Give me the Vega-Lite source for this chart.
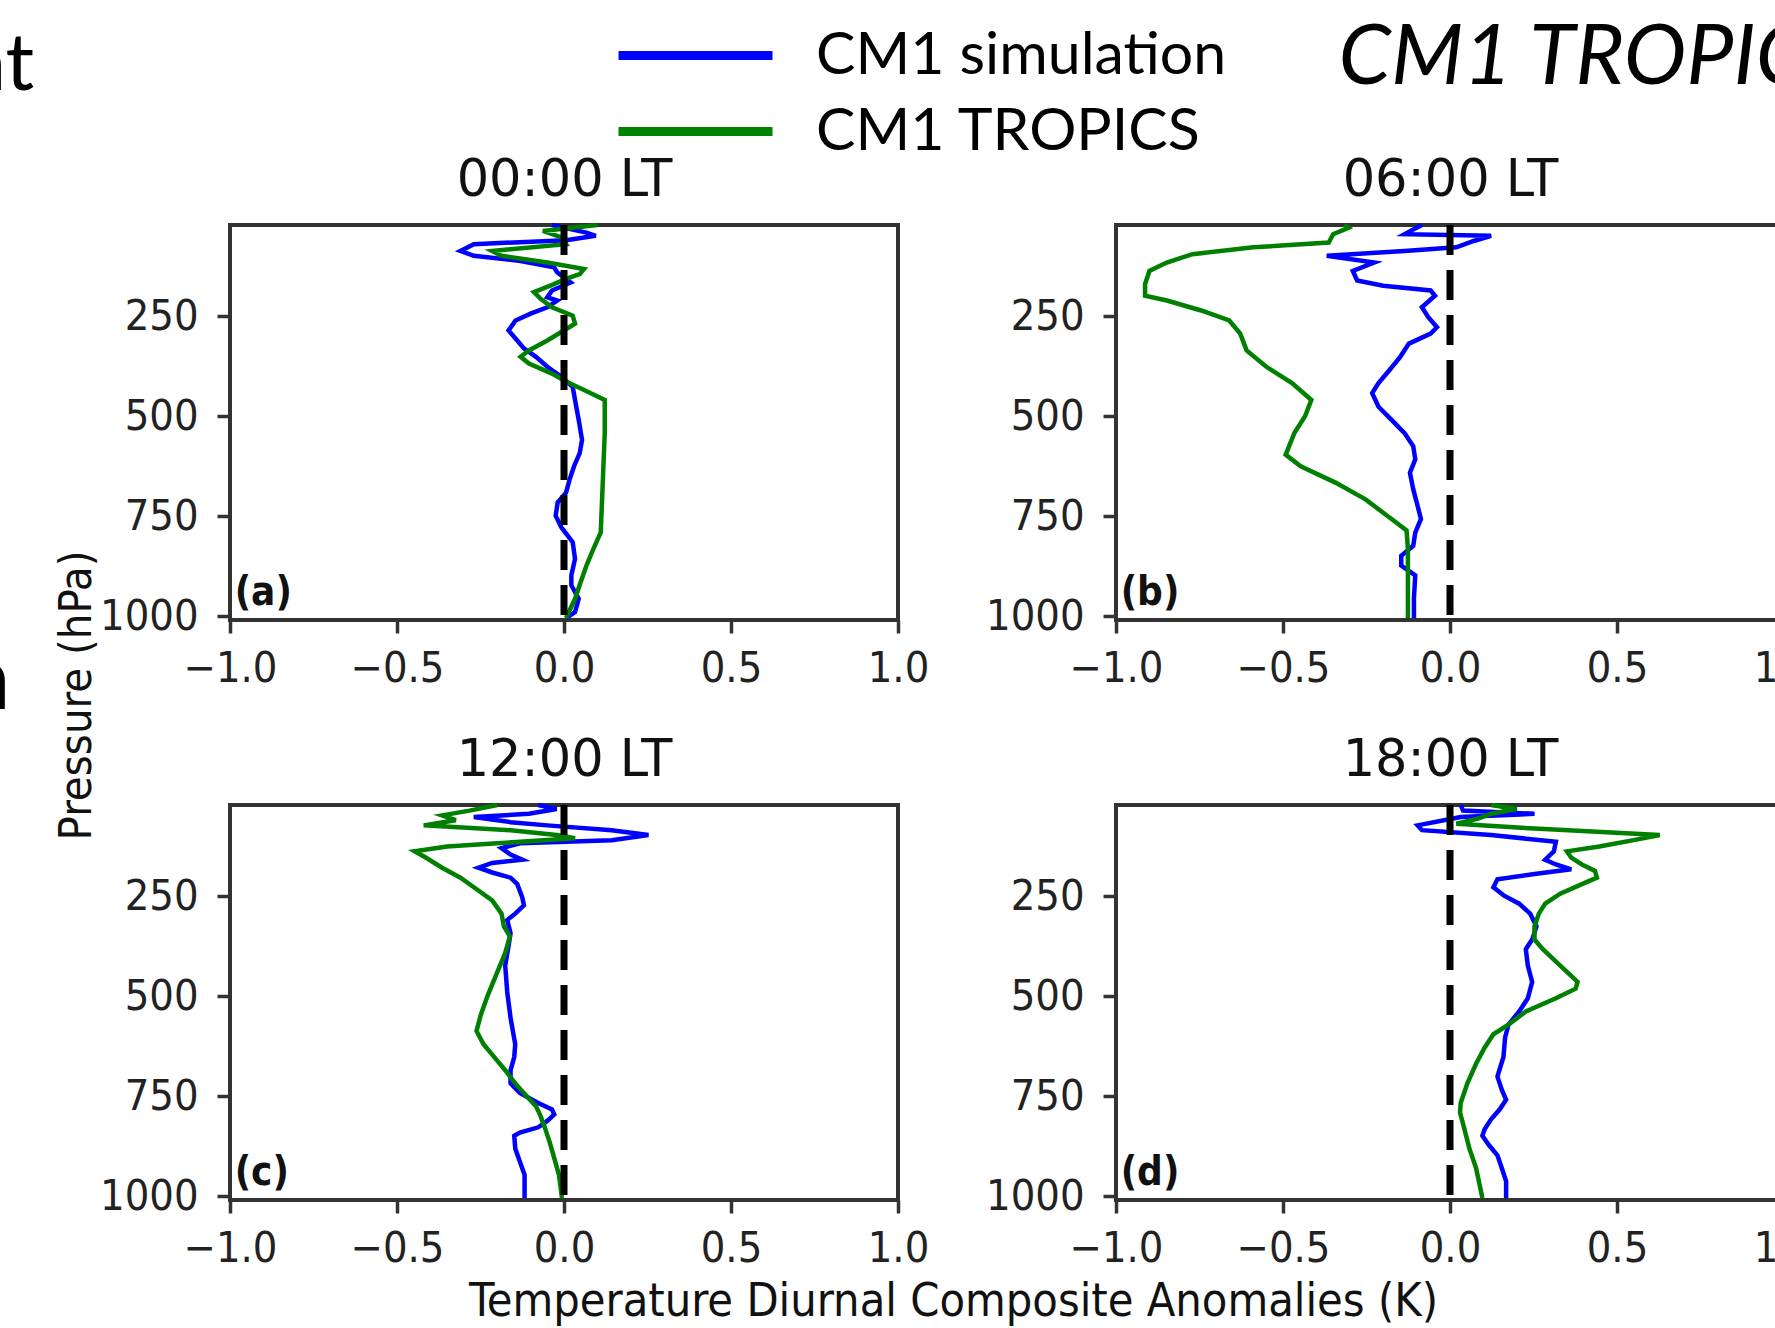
{
"$schema": "https://vega.github.io/schema/vega-lite/v6.json",
"usermeta": {"embedOptions": {"actions": false}},
"background": "white",
"padding": {"left": -42, "top": 14, "right": -39, "bottom": 0},
"bounds": "flush",
"columns": 2,
"spacing": {"row": 185, "column": 218},
"resolve": {"scale": {"color": "shared"}, "legend": {"color": "shared"}},
"config": {
  "font": "DejaVu Sans",
  "view": {"stroke": "#333333", "strokeWidth": 4},
  "axis": {"grid": false, "domain": false, "tickColor": "#333333", "tickWidth": 3.5, "tickSize": 13, "labelFont": "DejaVu Sans Condensed, DejaVu Sans", "labelFontSize": 43, "labelColor": "#222222", "labelOverlap": false, "labelFlush": false, "labelBound": false, "titleLimit": 3000, "titleColor": "#111111", "titleFontWeight": "normal"},
  "legend": {"symbolType": "M-3,0H3", "symbolSize": 2635, "symbolStrokeWidth": 9, "symbolFillColor": "transparent", "labelFont": "Liberation Sans Narrow, Lato", "labelFontSize": 59, "labelColor": "#000000", "labelOffset": 90, "rowPadding": 15, "labelLimit": 2000, "padding": 0}
},
"datasets": {
  "tags": [
    {"g": "a", "T": -0.986, "p": 972, "label": "(a)"},
    {"g": "b", "T": -0.986, "p": 972, "label": "(b)"},
    {"g": "c", "T": -0.986, "p": 972, "label": "(c)"},
    {"g": "d", "T": -0.986, "p": 972, "label": "(d)"}
  ],
  "profiles": [
    {"g":"a","s":"CM1 simulation","p":21,"T":-0.036},{"g":"a","s":"CM1 simulation","p":40,"T":0.067},{"g":"a","s":"CM1 simulation","p":48,"T":0.095},{"g":"a","s":"CM1 simulation","p":59,"T":0.006},{"g":"a","s":"CM1 simulation","p":69,"T":-0.27},{"g":"a","s":"CM1 simulation","p":86,"T":-0.31},{"g":"a","s":"CM1 simulation","p":98,"T":-0.27},{"g":"a","s":"CM1 simulation","p":111,"T":-0.13},{"g":"a","s":"CM1 simulation","p":127,"T":-0.03},{"g":"a","s":"CM1 simulation","p":140,"T":-0.02},{"g":"a","s":"CM1 simulation","p":165,"T":0.02},{"g":"a","s":"CM1 simulation","p":185,"T":-0.036},{"g":"a","s":"CM1 simulation","p":202,"T":-0.05},{"g":"a","s":"CM1 simulation","p":210,"T":-0.02},{"g":"a","s":"CM1 simulation","p":227,"T":-0.05},{"g":"a","s":"CM1 simulation","p":243,"T":-0.1},{"g":"a","s":"CM1 simulation","p":260,"T":-0.145},{"g":"a","s":"CM1 simulation","p":285,"T":-0.166},{"g":"a","s":"CM1 simulation","p":310,"T":-0.14},{"g":"a","s":"CM1 simulation","p":330,"T":-0.12},{"g":"a","s":"CM1 simulation","p":351,"T":-0.084},{"g":"a","s":"CM1 simulation","p":376,"T":-0.05},{"g":"a","s":"CM1 simulation","p":401,"T":-0.008},{"g":"a","s":"CM1 simulation","p":426,"T":0.026},{"g":"a","s":"CM1 simulation","p":459,"T":0.033},{"g":"a","s":"CM1 simulation","p":509,"T":0.044},{"g":"a","s":"CM1 simulation","p":559,"T":0.054},{"g":"a","s":"CM1 simulation","p":592,"T":0.047},{"g":"a","s":"CM1 simulation","p":625,"T":0.03},{"g":"a","s":"CM1 simulation","p":658,"T":0.017},{"g":"a","s":"CM1 simulation","p":691,"T":0.006},{"g":"a","s":"CM1 simulation","p":716,"T":-0.019},{"g":"a","s":"CM1 simulation","p":749,"T":-0.025},{"g":"a","s":"CM1 simulation","p":778,"T":-0.008},{"g":"a","s":"CM1 simulation","p":815,"T":0.026},{"g":"a","s":"CM1 simulation","p":857,"T":0.033},{"g":"a","s":"CM1 simulation","p":898,"T":0.022},{"g":"a","s":"CM1 simulation","p":923,"T":0.022},{"g":"a","s":"CM1 simulation","p":957,"T":0.044},{"g":"a","s":"CM1 simulation","p":990,"T":0.033},{"g":"a","s":"CM1 simulation","p":1005,"T":0.006},
    {"g":"a","s":"CM1 TROPICS","p":21,"T":0.1},{"g":"a","s":"CM1 TROPICS","p":36,"T":-0.063},{"g":"a","s":"CM1 TROPICS","p":52,"T":-0.008},{"g":"a","s":"CM1 TROPICS","p":69,"T":0.006},{"g":"a","s":"CM1 TROPICS","p":86,"T":-0.215},{"g":"a","s":"CM1 TROPICS","p":98,"T":-0.187},{"g":"a","s":"CM1 TROPICS","p":115,"T":-0.05},{"g":"a","s":"CM1 TROPICS","p":131,"T":0.06},{"g":"a","s":"CM1 TROPICS","p":144,"T":0.047},{"g":"a","s":"CM1 TROPICS","p":156,"T":0.006},{"g":"a","s":"CM1 TROPICS","p":169,"T":-0.03},{"g":"a","s":"CM1 TROPICS","p":189,"T":-0.09},{"g":"a","s":"CM1 TROPICS","p":206,"T":-0.07},{"g":"a","s":"CM1 TROPICS","p":227,"T":-0.036},{"g":"a","s":"CM1 TROPICS","p":248,"T":0.026},{"g":"a","s":"CM1 TROPICS","p":268,"T":0.033},{"g":"a","s":"CM1 TROPICS","p":289,"T":-0.008},{"g":"a","s":"CM1 TROPICS","p":310,"T":-0.05},{"g":"a","s":"CM1 TROPICS","p":335,"T":-0.105},{"g":"a","s":"CM1 TROPICS","p":351,"T":-0.13},{"g":"a","s":"CM1 TROPICS","p":368,"T":-0.105},{"g":"a","s":"CM1 TROPICS","p":393,"T":-0.036},{"g":"a","s":"CM1 TROPICS","p":413,"T":0.006},{"g":"a","s":"CM1 TROPICS","p":434,"T":0.06},{"g":"a","s":"CM1 TROPICS","p":459,"T":0.122},{"g":"a","s":"CM1 TROPICS","p":542,"T":0.122},{"g":"a","s":"CM1 TROPICS","p":625,"T":0.118},{"g":"a","s":"CM1 TROPICS","p":791,"T":0.11},{"g":"a","s":"CM1 TROPICS","p":832,"T":0.088},{"g":"a","s":"CM1 TROPICS","p":874,"T":0.067},{"g":"a","s":"CM1 TROPICS","p":915,"T":0.05},{"g":"a","s":"CM1 TROPICS","p":957,"T":0.033},{"g":"a","s":"CM1 TROPICS","p":1005,"T":0.006},
    {"g":"b","s":"CM1 simulation","p":21,"T":-0.084},{"g":"b","s":"CM1 simulation","p":32,"T":-0.11},{"g":"b","s":"CM1 simulation","p":44,"T":-0.136},{"g":"b","s":"CM1 simulation","p":48,"T":0.123},{"g":"b","s":"CM1 simulation","p":61,"T":0.071},{"g":"b","s":"CM1 simulation","p":77,"T":0.019},{"g":"b","s":"CM1 simulation","p":86,"T":-0.136},{"g":"b","s":"CM1 simulation","p":98,"T":-0.369},{"g":"b","s":"CM1 simulation","p":115,"T":-0.227},{"g":"b","s":"CM1 simulation","p":136,"T":-0.291},{"g":"b","s":"CM1 simulation","p":160,"T":-0.278},{"g":"b","s":"CM1 simulation","p":173,"T":-0.2},{"g":"b","s":"CM1 simulation","p":185,"T":-0.058},{"g":"b","s":"CM1 simulation","p":198,"T":-0.045},{"g":"b","s":"CM1 simulation","p":227,"T":-0.084},{"g":"b","s":"CM1 simulation","p":252,"T":-0.065},{"g":"b","s":"CM1 simulation","p":277,"T":-0.039},{"g":"b","s":"CM1 simulation","p":293,"T":-0.058},{"g":"b","s":"CM1 simulation","p":318,"T":-0.123},{"g":"b","s":"CM1 simulation","p":351,"T":-0.149},{"g":"b","s":"CM1 simulation","p":384,"T":-0.181},{"g":"b","s":"CM1 simulation","p":417,"T":-0.214},{"g":"b","s":"CM1 simulation","p":442,"T":-0.233},{"g":"b","s":"CM1 simulation","p":476,"T":-0.214},{"g":"b","s":"CM1 simulation","p":509,"T":-0.175},{"g":"b","s":"CM1 simulation","p":542,"T":-0.136},{"g":"b","s":"CM1 simulation","p":575,"T":-0.11},{"g":"b","s":"CM1 simulation","p":608,"T":-0.104},{"g":"b","s":"CM1 simulation","p":641,"T":-0.12},{"g":"b","s":"CM1 simulation","p":683,"T":-0.11},{"g":"b","s":"CM1 simulation","p":724,"T":-0.097},{"g":"b","s":"CM1 simulation","p":757,"T":-0.087},{"g":"b","s":"CM1 simulation","p":791,"T":-0.104},{"g":"b","s":"CM1 simulation","p":824,"T":-0.11},{"g":"b","s":"CM1 simulation","p":849,"T":-0.146},{"g":"b","s":"CM1 simulation","p":874,"T":-0.146},{"g":"b","s":"CM1 simulation","p":898,"T":-0.104},{"g":"b","s":"CM1 simulation","p":956,"T":-0.108},{"g":"b","s":"CM1 simulation","p":1005,"T":-0.108},
    {"g":"b","s":"CM1 TROPICS","p":21,"T":-0.317},{"g":"b","s":"CM1 TROPICS","p":28,"T":-0.304},{"g":"b","s":"CM1 TROPICS","p":44,"T":-0.35},{"g":"b","s":"CM1 TROPICS","p":65,"T":-0.363},{"g":"b","s":"CM1 TROPICS","p":77,"T":-0.589},{"g":"b","s":"CM1 TROPICS","p":94,"T":-0.771},{"g":"b","s":"CM1 TROPICS","p":115,"T":-0.848},{"g":"b","s":"CM1 TROPICS","p":136,"T":-0.9},{"g":"b","s":"CM1 TROPICS","p":169,"T":-0.913},{"g":"b","s":"CM1 TROPICS","p":198,"T":-0.913},{"g":"b","s":"CM1 TROPICS","p":210,"T":-0.848},{"g":"b","s":"CM1 TROPICS","p":235,"T":-0.745},{"g":"b","s":"CM1 TROPICS","p":260,"T":-0.661},{"g":"b","s":"CM1 TROPICS","p":293,"T":-0.628},{"g":"b","s":"CM1 TROPICS","p":335,"T":-0.609},{"g":"b","s":"CM1 TROPICS","p":376,"T":-0.55},{"g":"b","s":"CM1 TROPICS","p":417,"T":-0.473},{"g":"b","s":"CM1 TROPICS","p":459,"T":-0.415},{"g":"b","s":"CM1 TROPICS","p":500,"T":-0.434},{"g":"b","s":"CM1 TROPICS","p":542,"T":-0.466},{"g":"b","s":"CM1 TROPICS","p":596,"T":-0.492},{"g":"b","s":"CM1 TROPICS","p":625,"T":-0.447},{"g":"b","s":"CM1 TROPICS","p":666,"T":-0.343},{"g":"b","s":"CM1 TROPICS","p":708,"T":-0.253},{"g":"b","s":"CM1 TROPICS","p":749,"T":-0.188},{"g":"b","s":"CM1 TROPICS","p":786,"T":-0.13},{"g":"b","s":"CM1 TROPICS","p":832,"T":-0.126},{"g":"b","s":"CM1 TROPICS","p":1005,"T":-0.126},
    {"g":"c","s":"CM1 simulation","p":21,"T":-0.077},{"g":"c","s":"CM1 simulation","p":31,"T":-0.022},{"g":"c","s":"CM1 simulation","p":43,"T":-0.105},{"g":"c","s":"CM1 simulation","p":51,"T":-0.27},{"g":"c","s":"CM1 simulation","p":64,"T":-0.16},{"g":"c","s":"CM1 simulation","p":72,"T":-0.05},{"g":"c","s":"CM1 simulation","p":84,"T":0.143},{"g":"c","s":"CM1 simulation","p":96,"T":0.253},{"g":"c","s":"CM1 simulation","p":109,"T":0.143},{"g":"c","s":"CM1 simulation","p":117,"T":-0.132},{"g":"c","s":"CM1 simulation","p":129,"T":-0.187},{"g":"c","s":"CM1 simulation","p":145,"T":-0.16},{"g":"c","s":"CM1 simulation","p":158,"T":-0.125},{"g":"c","s":"CM1 simulation","p":166,"T":-0.215},{"g":"c","s":"CM1 simulation","p":178,"T":-0.256},{"g":"c","s":"CM1 simulation","p":190,"T":-0.215},{"g":"c","s":"CM1 simulation","p":203,"T":-0.16},{"g":"c","s":"CM1 simulation","p":219,"T":-0.14},{"g":"c","s":"CM1 simulation","p":252,"T":-0.125},{"g":"c","s":"CM1 simulation","p":272,"T":-0.12},{"g":"c","s":"CM1 simulation","p":293,"T":-0.146},{"g":"c","s":"CM1 simulation","p":309,"T":-0.17},{"g":"c","s":"CM1 simulation","p":342,"T":-0.16},{"g":"c","s":"CM1 simulation","p":374,"T":-0.166},{"g":"c","s":"CM1 simulation","p":423,"T":-0.176},{"g":"c","s":"CM1 simulation","p":489,"T":-0.17},{"g":"c","s":"CM1 simulation","p":554,"T":-0.16},{"g":"c","s":"CM1 simulation","p":620,"T":-0.146},{"g":"c","s":"CM1 simulation","p":652,"T":-0.149},{"g":"c","s":"CM1 simulation","p":685,"T":-0.16},{"g":"c","s":"CM1 simulation","p":718,"T":-0.16},{"g":"c","s":"CM1 simulation","p":742,"T":-0.132},{"g":"c","s":"CM1 simulation","p":767,"T":-0.077},{"g":"c","s":"CM1 simulation","p":783,"T":-0.036},{"g":"c","s":"CM1 simulation","p":796,"T":-0.029},{"g":"c","s":"CM1 simulation","p":812,"T":-0.05},{"g":"c","s":"CM1 simulation","p":828,"T":-0.077},{"g":"c","s":"CM1 simulation","p":841,"T":-0.132},{"g":"c","s":"CM1 simulation","p":849,"T":-0.149},{"g":"c","s":"CM1 simulation","p":881,"T":-0.146},{"g":"c","s":"CM1 simulation","p":914,"T":-0.132},{"g":"c","s":"CM1 simulation","p":947,"T":-0.118},{"g":"c","s":"CM1 simulation","p":1005,"T":-0.118},
    {"g":"c","s":"CM1 TROPICS","p":21,"T":-0.2},{"g":"c","s":"CM1 TROPICS","p":35,"T":-0.283},{"g":"c","s":"CM1 TROPICS","p":47,"T":-0.365},{"g":"c","s":"CM1 TROPICS","p":59,"T":-0.324},{"g":"c","s":"CM1 TROPICS","p":72,"T":-0.42},{"g":"c","s":"CM1 TROPICS","p":84,"T":-0.16},{"g":"c","s":"CM1 TROPICS","p":96,"T":-0.022},{"g":"c","s":"CM1 TROPICS","p":104,"T":0.033},{"g":"c","s":"CM1 TROPICS","p":117,"T":-0.2},{"g":"c","s":"CM1 TROPICS","p":125,"T":-0.35},{"g":"c","s":"CM1 TROPICS","p":137,"T":-0.447},{"g":"c","s":"CM1 TROPICS","p":153,"T":-0.413},{"g":"c","s":"CM1 TROPICS","p":178,"T":-0.365},{"g":"c","s":"CM1 TROPICS","p":203,"T":-0.31},{"g":"c","s":"CM1 TROPICS","p":227,"T":-0.27},{"g":"c","s":"CM1 TROPICS","p":260,"T":-0.215},{"g":"c","s":"CM1 TROPICS","p":293,"T":-0.187},{"g":"c","s":"CM1 TROPICS","p":325,"T":-0.18},{"g":"c","s":"CM1 TROPICS","p":350,"T":-0.162},{"g":"c","s":"CM1 TROPICS","p":391,"T":-0.176},{"g":"c","s":"CM1 TROPICS","p":440,"T":-0.2},{"g":"c","s":"CM1 TROPICS","p":497,"T":-0.228},{"g":"c","s":"CM1 TROPICS","p":546,"T":-0.249},{"g":"c","s":"CM1 TROPICS","p":587,"T":-0.262},{"g":"c","s":"CM1 TROPICS","p":620,"T":-0.241},{"g":"c","s":"CM1 TROPICS","p":661,"T":-0.2},{"g":"c","s":"CM1 TROPICS","p":685,"T":-0.176},{"g":"c","s":"CM1 TROPICS","p":718,"T":-0.146},{"g":"c","s":"CM1 TROPICS","p":751,"T":-0.111},{"g":"c","s":"CM1 TROPICS","p":775,"T":-0.084},{"g":"c","s":"CM1 TROPICS","p":800,"T":-0.07},{"g":"c","s":"CM1 TROPICS","p":832,"T":-0.056},{"g":"c","s":"CM1 TROPICS","p":865,"T":-0.043},{"g":"c","s":"CM1 TROPICS","p":906,"T":-0.029},{"g":"c","s":"CM1 TROPICS","p":947,"T":-0.015},{"g":"c","s":"CM1 TROPICS","p":1005,"T":-0.006},
    {"g":"d","s":"CM1 simulation","p":21,"T":0.032},{"g":"d","s":"CM1 simulation","p":35,"T":0.039},{"g":"d","s":"CM1 simulation","p":43,"T":0.253},{"g":"d","s":"CM1 simulation","p":51,"T":0.032},{"g":"d","s":"CM1 simulation","p":72,"T":-0.097},{"g":"d","s":"CM1 simulation","p":84,"T":-0.084},{"g":"d","s":"CM1 simulation","p":96,"T":0.123},{"g":"d","s":"CM1 simulation","p":113,"T":0.317},{"g":"d","s":"CM1 simulation","p":137,"T":0.311},{"g":"d","s":"CM1 simulation","p":158,"T":0.285},{"g":"d","s":"CM1 simulation","p":170,"T":0.317},{"g":"d","s":"CM1 simulation","p":182,"T":0.363},{"g":"d","s":"CM1 simulation","p":194,"T":0.253},{"g":"d","s":"CM1 simulation","p":207,"T":0.142},{"g":"d","s":"CM1 simulation","p":227,"T":0.13},{"g":"d","s":"CM1 simulation","p":248,"T":0.162},{"g":"d","s":"CM1 simulation","p":268,"T":0.207},{"g":"d","s":"CM1 simulation","p":293,"T":0.24},{"g":"d","s":"CM1 simulation","p":325,"T":0.259},{"g":"d","s":"CM1 simulation","p":358,"T":0.246},{"g":"d","s":"CM1 simulation","p":382,"T":0.227},{"g":"d","s":"CM1 simulation","p":423,"T":0.233},{"g":"d","s":"CM1 simulation","p":464,"T":0.246},{"g":"d","s":"CM1 simulation","p":505,"T":0.233},{"g":"d","s":"CM1 simulation","p":538,"T":0.207},{"g":"d","s":"CM1 simulation","p":571,"T":0.175},{"g":"d","s":"CM1 simulation","p":603,"T":0.165},{"g":"d","s":"CM1 simulation","p":652,"T":0.16},{"g":"d","s":"CM1 simulation","p":701,"T":0.142},{"g":"d","s":"CM1 simulation","p":734,"T":0.155},{"g":"d","s":"CM1 simulation","p":759,"T":0.168},{"g":"d","s":"CM1 simulation","p":783,"T":0.149},{"g":"d","s":"CM1 simulation","p":808,"T":0.123},{"g":"d","s":"CM1 simulation","p":832,"T":0.104},{"g":"d","s":"CM1 simulation","p":849,"T":0.097},{"g":"d","s":"CM1 simulation","p":873,"T":0.117},{"g":"d","s":"CM1 simulation","p":898,"T":0.142},{"g":"d","s":"CM1 simulation","p":930,"T":0.155},{"g":"d","s":"CM1 simulation","p":963,"T":0.168},{"g":"d","s":"CM1 simulation","p":1005,"T":0.168},
    {"g":"d","s":"CM1 TROPICS","p":21,"T":0.123},{"g":"d","s":"CM1 TROPICS","p":31,"T":0.2},{"g":"d","s":"CM1 TROPICS","p":43,"T":0.123},{"g":"d","s":"CM1 TROPICS","p":55,"T":0.084},{"g":"d","s":"CM1 TROPICS","p":68,"T":0.019},{"g":"d","s":"CM1 TROPICS","p":80,"T":0.253},{"g":"d","s":"CM1 TROPICS","p":96,"T":0.628},{"g":"d","s":"CM1 TROPICS","p":109,"T":0.55},{"g":"d","s":"CM1 TROPICS","p":125,"T":0.447},{"g":"d","s":"CM1 TROPICS","p":137,"T":0.35},{"g":"d","s":"CM1 TROPICS","p":153,"T":0.363},{"g":"d","s":"CM1 TROPICS","p":170,"T":0.395},{"g":"d","s":"CM1 TROPICS","p":186,"T":0.434},{"g":"d","s":"CM1 TROPICS","p":203,"T":0.44},{"g":"d","s":"CM1 TROPICS","p":219,"T":0.395},{"g":"d","s":"CM1 TROPICS","p":243,"T":0.33},{"g":"d","s":"CM1 TROPICS","p":268,"T":0.285},{"g":"d","s":"CM1 TROPICS","p":293,"T":0.266},{"g":"d","s":"CM1 TROPICS","p":325,"T":0.253},{"g":"d","s":"CM1 TROPICS","p":358,"T":0.253},{"g":"d","s":"CM1 TROPICS","p":382,"T":0.278},{"g":"d","s":"CM1 TROPICS","p":423,"T":0.33},{"g":"d","s":"CM1 TROPICS","p":464,"T":0.382},{"g":"d","s":"CM1 TROPICS","p":481,"T":0.376},{"g":"d","s":"CM1 TROPICS","p":505,"T":0.317},{"g":"d","s":"CM1 TROPICS","p":538,"T":0.227},{"g":"d","s":"CM1 TROPICS","p":571,"T":0.175},{"g":"d","s":"CM1 TROPICS","p":595,"T":0.13},{"g":"d","s":"CM1 TROPICS","p":628,"T":0.104},{"g":"d","s":"CM1 TROPICS","p":669,"T":0.078},{"g":"d","s":"CM1 TROPICS","p":718,"T":0.052},{"g":"d","s":"CM1 TROPICS","p":767,"T":0.032},{"g":"d","s":"CM1 TROPICS","p":791,"T":0.03},{"g":"d","s":"CM1 TROPICS","p":832,"T":0.043},{"g":"d","s":"CM1 TROPICS","p":881,"T":0.058},{"g":"d","s":"CM1 TROPICS","p":930,"T":0.078},{"g":"d","s":"CM1 TROPICS","p":1005,"T":0.097}
  ]
},
"concat": [
  {
    "width": 668, "height": 395,
    "resolve": {"axis": {"x": "independent"}},
    "layer": [
      {"data": {"name": "profiles"}, "transform": [{"filter": "datum.g == 'a'"}],
       "mark": {"type": "line", "strokeWidth": 4.5},
       "encoding": {
         "x": {"field": "T", "type": "quantitative", "scale": {"domain": [-1, 1], "nice": false, "zero": false},
               "axis": {"values": [-1, -0.5, 0, 0.5, 1], "format": ".1f", "labelPadding": 14, "title": "nt", "titleX": -269, "titleY": -531, "titleAngle": 0, "titleAlign": "left", "titleBaseline": "alphabetic", "titleFont": "Liberation Sans Narrow, Lato", "titleFontSize": 80, "titleColor": "#000000"}},
         "y": {"field": "p", "type": "quantitative", "scale": {"domain": [21, 1010], "reverse": true, "nice": false, "zero": false},
               "axis": {"values": [250, 500, 750, 1000], "format": "d", "labelPadding": 19, "title": "Pressure (hPa)", "titleX": -140, "titleY": 470, "titleAngle": 270, "titleAlign": "center", "titleBaseline": "alphabetic", "titleFont": "DejaVu Sans Condensed, DejaVu Sans", "titleFontSize": 45}},
         "color": {"field": "s", "type": "nominal", "scale": {"domain": ["CM1 simulation", "CM1 TROPICS"], "range": ["#0000ff", "#008000"]},
                   "legend": {"orient": "none", "legendX": 435, "legendY": -200, "direction": "vertical", "title": null}},
         "order": {"field": "p", "type": "quantitative"}
       }},
      {"data": {"name": "tags"}, "transform": [{"filter": "datum.g == 'a'"}],
       "mark": {"type": "text", "align": "left", "baseline": "alphabetic", "font": "DejaVu Sans Condensed, DejaVu Sans", "fontWeight": "bold", "fontSize": 40, "color": "#111111"},
       "encoding": {"x": {"field": "T", "type": "quantitative", "axis": null}, "y": {"field": "p", "type": "quantitative"}, "text": {"field": "label"}}},
      {"data": {"values": [{"z": 0}]},
       "mark": {"type": "rule", "color": "#000000", "strokeWidth": 7, "strokeDash": [30, 15]},
       "encoding": {"x": {"field": "z", "type": "quantitative",
         "axis": {"orient": "top", "title": "00:00 LT", "labels": false, "ticks": false, "domain": false, "titleX": 334, "titleY": -30, "titleAngle": 0, "titleAlign": "center", "titleBaseline": "alphabetic", "titleFont": "DejaVu Sans", "titleFontSize": 51}}}}
    ]
  },
  {
    "width": 668, "height": 395,
    "resolve": {"axis": {"x": "independent"}},
    "layer": [
      {"data": {"name": "profiles"}, "transform": [{"filter": "datum.g == 'b'"}],
       "mark": {"type": "line", "strokeWidth": 4.5},
       "encoding": {
         "x": {"field": "T", "type": "quantitative", "scale": {"domain": [-1, 1], "nice": false, "zero": false},
               "axis": {"values": [-1, -0.5, 0, 0.5, 1], "format": ".1f", "labelPadding": 14, "title": null}},
         "y": {"field": "p", "type": "quantitative", "scale": {"domain": [21, 1010], "reverse": true, "nice": false, "zero": false},
               "axis": {"values": [250, 500, 750, 1000], "format": "d", "labelPadding": 19, "title": "CM1 TROPICS", "titleX": 222, "titleY": -142, "titleAngle": 0, "titleAlign": "left", "titleBaseline": "alphabetic", "titleFont": "Liberation Sans Narrow, Lato", "titleFontStyle": "italic", "titleFontSize": 84, "titleColor": "#000000"}},
         "color": {"field": "s", "type": "nominal", "scale": {"domain": ["CM1 simulation", "CM1 TROPICS"], "range": ["#0000ff", "#008000"]},
                   "legend": {"orient": "none", "legendX": 435, "legendY": -200, "direction": "vertical", "title": null}},
         "order": {"field": "p", "type": "quantitative"}
       }},
      {"data": {"name": "tags"}, "transform": [{"filter": "datum.g == 'b'"}],
       "mark": {"type": "text", "align": "left", "baseline": "alphabetic", "font": "DejaVu Sans Condensed, DejaVu Sans", "fontWeight": "bold", "fontSize": 40, "color": "#111111"},
       "encoding": {"x": {"field": "T", "type": "quantitative", "axis": null}, "y": {"field": "p", "type": "quantitative"}, "text": {"field": "label"}}},
      {"data": {"values": [{"z": 0}]},
       "mark": {"type": "rule", "color": "#000000", "strokeWidth": 7, "strokeDash": [30, 15]},
       "encoding": {"x": {"field": "z", "type": "quantitative",
         "axis": {"orient": "top", "title": "06:00 LT", "labels": false, "ticks": false, "domain": false, "titleX": 334, "titleY": -30, "titleAngle": 0, "titleAlign": "center", "titleBaseline": "alphabetic", "titleFont": "DejaVu Sans", "titleFontSize": 51}}}}
    ]
  },
  {
    "width": 668, "height": 395,
    "resolve": {"axis": {"x": "independent"}},
    "layer": [
      {"data": {"name": "profiles"}, "transform": [{"filter": "datum.g == 'c'"}],
       "mark": {"type": "line", "strokeWidth": 4.5},
       "encoding": {
         "x": {"field": "T", "type": "quantitative", "scale": {"domain": [-1, 1], "nice": false, "zero": false},
               "axis": {"values": [-1, -0.5, 0, 0.5, 1], "format": ".1f", "labelPadding": 14, "title": "Temperature Diurnal Composite Anomalies (K)", "titleX": 723, "titleY": 115, "titleAngle": 0, "titleAlign": "center", "titleBaseline": "alphabetic", "titleFont": "DejaVu Sans Condensed, DejaVu Sans", "titleFontSize": 46.5}},
         "y": {"field": "p", "type": "quantitative", "scale": {"domain": [21, 1010], "reverse": true, "nice": false, "zero": false},
               "axis": {"values": [250, 500, 750, 1000], "format": "d", "labelPadding": 19, "title": "n", "titleX": -270, "titleY": -97, "titleAngle": 0, "titleAlign": "left", "titleBaseline": "alphabetic", "titleFont": "Liberation Sans Narrow, Lato", "titleFontSize": 90, "titleColor": "#000000"}},
         "color": {"field": "s", "type": "nominal", "scale": {"domain": ["CM1 simulation", "CM1 TROPICS"], "range": ["#0000ff", "#008000"]},
                   "legend": {"orient": "none", "legendX": 435, "legendY": -200, "direction": "vertical", "title": null}},
         "order": {"field": "p", "type": "quantitative"}
       }},
      {"data": {"name": "tags"}, "transform": [{"filter": "datum.g == 'c'"}],
       "mark": {"type": "text", "align": "left", "baseline": "alphabetic", "font": "DejaVu Sans Condensed, DejaVu Sans", "fontWeight": "bold", "fontSize": 40, "color": "#111111"},
       "encoding": {"x": {"field": "T", "type": "quantitative", "axis": null}, "y": {"field": "p", "type": "quantitative"}, "text": {"field": "label"}}},
      {"data": {"values": [{"z": 0}]},
       "mark": {"type": "rule", "color": "#000000", "strokeWidth": 7, "strokeDash": [30, 15]},
       "encoding": {"x": {"field": "z", "type": "quantitative",
         "axis": {"orient": "top", "title": "12:00 LT", "labels": false, "ticks": false, "domain": false, "titleX": 334, "titleY": -30, "titleAngle": 0, "titleAlign": "center", "titleBaseline": "alphabetic", "titleFont": "DejaVu Sans", "titleFontSize": 51}}}}
    ]
  },
  {
    "width": 668, "height": 395,
    "resolve": {"axis": {"x": "independent"}},
    "layer": [
      {"data": {"name": "profiles"}, "transform": [{"filter": "datum.g == 'd'"}],
       "mark": {"type": "line", "strokeWidth": 4.5},
       "encoding": {
         "x": {"field": "T", "type": "quantitative", "scale": {"domain": [-1, 1], "nice": false, "zero": false},
               "axis": {"values": [-1, -0.5, 0, 0.5, 1], "format": ".1f", "labelPadding": 14, "title": null}},
         "y": {"field": "p", "type": "quantitative", "scale": {"domain": [21, 1010], "reverse": true, "nice": false, "zero": false},
               "axis": {"values": [250, 500, 750, 1000], "format": "d", "labelPadding": 19, "title": null}},
         "color": {"field": "s", "type": "nominal", "scale": {"domain": ["CM1 simulation", "CM1 TROPICS"], "range": ["#0000ff", "#008000"]},
                   "legend": {"orient": "none", "legendX": 435, "legendY": -200, "direction": "vertical", "title": null}},
         "order": {"field": "p", "type": "quantitative"}
       }},
      {"data": {"name": "tags"}, "transform": [{"filter": "datum.g == 'd'"}],
       "mark": {"type": "text", "align": "left", "baseline": "alphabetic", "font": "DejaVu Sans Condensed, DejaVu Sans", "fontWeight": "bold", "fontSize": 40, "color": "#111111"},
       "encoding": {"x": {"field": "T", "type": "quantitative", "axis": null}, "y": {"field": "p", "type": "quantitative"}, "text": {"field": "label"}}},
      {"data": {"values": [{"z": 0}]},
       "mark": {"type": "rule", "color": "#000000", "strokeWidth": 7, "strokeDash": [30, 15]},
       "encoding": {"x": {"field": "z", "type": "quantitative",
         "axis": {"orient": "top", "title": "18:00 LT", "labels": false, "ticks": false, "domain": false, "titleX": 334, "titleY": -30, "titleAngle": 0, "titleAlign": "center", "titleBaseline": "alphabetic", "titleFont": "DejaVu Sans", "titleFontSize": 51}}}}
    ]
  }
]
}
